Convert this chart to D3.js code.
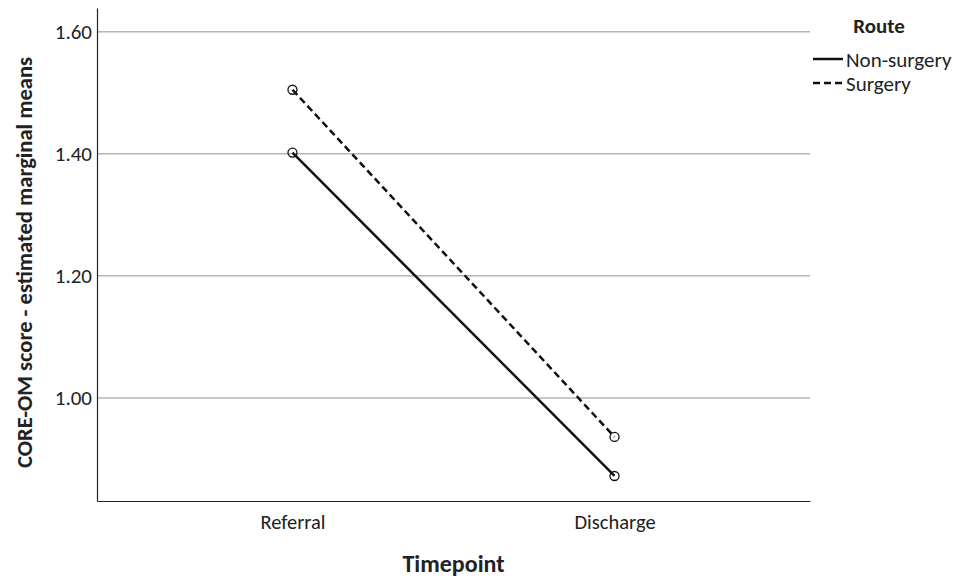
<!DOCTYPE html>
<html>
<head>
<meta charset="utf-8">
<script src="https://cdn.jsdelivr.net/npm/d3@7"></script>
<style>
	body { margin: 0; background: #fff; }
	text { font-family: Carlito, Lato, sans-serif; fill: #222; }
</style>
</head>
<body>
<svg id="chart" width="968" height="581"></svg>
<script>
	// Chart data
	var timepoints = ['Referral', 'Discharge'];
	var routes = ['Non-surgery', 'Surgery'];
	var nonSurgery = [1.402, 0.872];
	var surgery = [1.505, 0.936];
	var yTicks = [1.00, 1.20, 1.40, 1.60];

	var series = [
		{name: routes[0], values: nonSurgery, dash: null},
		{name: routes[1], values: surgery, dash: '7,4'}
	];

	var margin = {top: 8, left: 97, right: 158, bottom: 80},
		width = 968 - margin.left - margin.right,
		height = 581 - margin.top - margin.bottom;

	var svg = d3.select('#chart');
	var g = svg.append('g')
		.attr('transform', 'translate(' + margin.left + ',' + margin.top + ')');

	var x = d3.scalePoint()
		.domain(timepoints)
		.range([0, width])
		.padding(0.607);

	var y = d3.scaleLinear()
		.domain([0.831, 1.639])
		.range([height, 0]);

	// gridlines
	g.selectAll('line.grid')
		.data(yTicks)
		.enter().append('line')
		.attr('class', 'grid')
		.attr('x1', 0)
		.attr('x2', width)
		.attr('y1', function (d) { return y(d); })
		.attr('y2', function (d) { return y(d); })
		.attr('stroke', '#b4b4b4')
		.attr('stroke-width', 1.5);

	// y axis
	var yAxis = g.append('g')
		.call(d3.axisLeft(y).tickValues(yTicks).tickFormat(d3.format('.2f')).tickSize(0).tickPadding(5));
	yAxis.select('.domain').attr('stroke', '#222').attr('stroke-width', 1.2);
	yAxis.selectAll('text').style('font-size', '21px').attr('fill', '#222');

	// x axis
	var xAxis = g.append('g')
		.attr('transform', 'translate(0,' + height + ')')
		.call(d3.axisBottom(x).tickSize(0).tickPadding(13));
	xAxis.select('.domain').attr('stroke', '#222').attr('stroke-width', 1.2);
	xAxis.selectAll('text').style('font-size', '20.5px').attr('fill', '#222');

	// lines and markers
	var line = d3.line()
		.x(function (d, i) { return x(timepoints[i]); })
		.y(function (d) { return y(d); });

	series.forEach(function (s) {
		g.append('path')
			.datum(s.values)
			.attr('d', line)
			.attr('fill', 'none')
			.attr('stroke', '#111')
			.attr('stroke-width', 2.5)
			.attr('stroke-dasharray', s.dash);

		g.selectAll(null)
			.data(s.values)
			.enter().append('circle')
			.attr('cx', function (d, i) { return x(timepoints[i]); })
			.attr('cy', function (d) { return y(d); })
			.attr('r', 4.5)
			.attr('fill', 'none')
			.attr('stroke', '#111')
			.attr('stroke-width', 1.3);
	});

	// axis titles
	svg.append('text')
		.attr('transform', 'translate(32,' + (margin.top + height / 2 + 8) + ') rotate(-90)')
		.attr('text-anchor', 'middle')
		.style('font-size', '22.5px')
		.style('font-weight', 'bold')
		.text('CORE-OM score - estimated marginal means');

	svg.append('text')
		.attr('x', margin.left + width / 2)
		.attr('y', 572)
		.attr('text-anchor', 'middle')
		.style('font-size', '24px')
		.style('font-weight', 'bold')
		.text('Timepoint');

	// legend
	var legend = svg.append('g').attr('transform', 'translate(813,0)');
	legend.append('text')
		.attr('x', 66)
		.attr('y', 33)
		.attr('text-anchor', 'middle')
		.style('font-size', '21px')
		.style('font-weight', 'bold')
		.text('Route');

	var item = legend.selectAll('g.item')
		.data(series)
		.enter().append('g')
		.attr('class', 'item')
		.attr('transform', function (d, i) { return 'translate(0,' + (59 + i * 24) + ')'; });
	item.append('line')
		.attr('x1', 0).attr('x2', 30)
		.attr('stroke', '#111')
		.attr('stroke-width', 2.5)
		.attr('stroke-dasharray', function (d) { return d.dash; });
	item.append('text')
		.attr('x', 33)
		.attr('y', 8)
		.style('font-size', '21px')
		.text(function (d) { return d.name; });
</script>
</body>
</html>
